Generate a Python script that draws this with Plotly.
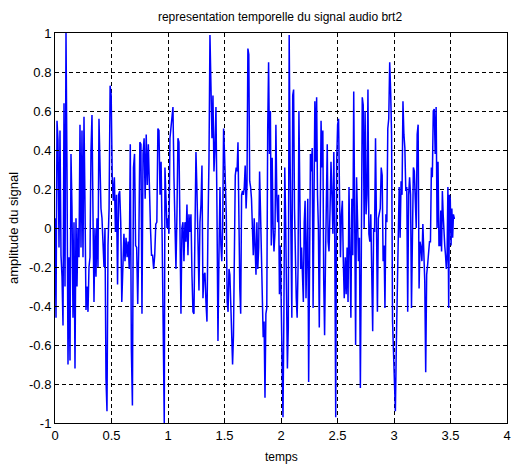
import numpy as np
import plotly.graph_objects as go

# amplitude readings, segment by segment
amp_a = [0.05, -0.46, 0.55, 0.45, -0.10, 0.50, -0.14, -0.25, -0.50, 0.64, -0.30, 1.0, 0.3, -0.70, -0.15,
         -0.68, 0.38, 0.1, -0.46, 0.03, -0.72, 0.05, -0.3, 0.0, -0.15, 0.53, -0.1, 0.5, -0.15, 0.57, 0.12,
         -0.42, -0.3, -0.43, -0.2, -0.15, 0.4, 0.58, 0.07, -0.38, 0.0, -0.25, 0.05, -0.2, 0.56, 0.2, 0.1,
         0.05, -0.1, -0.2, 0.0, -0.77, -0.94]
amp_b = [-0.09, 0.10, 0.73, 0.68, 0.26, 0.14, 0.26, -0.02, 0.17, -0.29, 0.17, 0.19, 0.03, -0.38, -0.15,
         -0.03, -0.17, -0.05, -0.15, -0.07, -0.21, 0.43, -0.62, -0.91, 0.31, 0.38, -0.09, -0.10, -0.39,
         -0.09, 0.44, 0.43, -0.44, 0.38, 0.46, 0.15, 0.48, 0.22, 0.43, 0.10, 0.0, -0.14, -0.14, -0.21,
         -0.14, 0.02, 0.03, 0.51, 0.50, 0.17, 0.34, -0.05, -0.60, -1.0]
amp_c = [0.31, 0.10, 0.0, 0.05, -0.03, 0.46, 0.53, 0.58, 0.62, 0.26, 0.07, -0.21, 0.07, 0.46, 0.44,
         0.05, -0.44, 0.0, 0.03, -0.17, 0.03, -0.07, 0.12, -0.14, 0.07, -0.02, 0.07, -0.24, -0.43, -0.44,
         -0.05, 0.39, 0.19, -0.17, -0.32, 0.03, 0.12, 0.32, -0.36, -0.24, -0.23, -0.38, -0.48, 0.0, 0.34,
         0.99, 0.63, 0.46, 0.68, 0.29, 0.41, 0.62, 0.10, -0.58, -0.14]
amp_d = [0.21, -0.09, -0.17, 0.0, 0.51, 0.39, 0.24, 0.07, -0.38, -0.43, -0.21, -0.24, -0.39, -0.58,
         -0.70, -0.55, -0.22, 0.27, 0.31, 0.29, 0.44, 0.0, -0.31, -0.44, 0.17, 0.19, 0.17, 0.21, 0.32,
         0.10, 0.22, 0.92, 0.89, 0.24, 0.21, 0.15, -0.05, -0.14, 0.05, -0.10, -0.24, 0.03, -0.21, -0.10,
         0.29, 0.09, -0.17, -0.24, -0.56, -0.48, -0.87, -0.44, -0.41, 0.50, 0.85, 0.38, 0.60, -0.09, 0.36,
         0.0, -0.12]
amp_e = [-0.02, 0.53, 0.17, 0.03, 0.17, -0.34, -0.09, -0.38, -0.91, -0.97, -0.46, 0.31, 0.05, -0.44,
         -0.72, -0.51, 0.99, 0.38, 0.03, -0.46, 0.68, 0.71, 0.10, -0.17, -0.36, -0.46, -0.21, 0.60, 0.17,
         -0.21, -0.10, -0.24, -0.38, 0.03, 0.14, -0.36, 0.07, 0.15, -0.79, -0.14, 0.38, 0.29, 0.41, -0.41,
         0.03, 0.65, 0.34, 0.67, 0.17, 0.0, -0.51, 0.0, 0.55, 0.31, 0.50, -0.27, -0.55, -0.17, 0.12, 0.43,
         -0.07, -0.12]
amp_f = [0.09, 0.34, 0.17, -0.03, 0.39, -0.07, -0.97, 0.34, 0.53, 0.56, 0.17, -0.15, 0.07, 0.14, -0.17,
         -0.36, -0.15, -0.34, -0.10, -0.38, 0.21, -0.17, -0.46, 0.15, -0.14, 0.70, 0.0, -0.60, 0.26, -0.03,
         -0.17, -0.05, -0.82, -0.14, 0.67, 0.63, 0.0, 0.60, 0.07, 0.17, 0.71, -0.03, -0.07, 0.07, -0.17,
         -0.53, 0.0, -0.02, 0.46, -0.03, -0.43, 0.05, 0.07, 0.10, 0.31, 0.27, -0.17, -0.09]
amp_g = [-0.41, 0.07, 0.03, 0.51, 0.56, 0.85, 0.70, 0.48, -0.48, -0.68, -0.89, -0.94, -0.60, -0.24, 0.07,
         0.21, -0.05, 0.24, 0.17, 0.65, 0.48, 0.41, 0.19, 0.21, -0.43, 0.17, 0.26, 0.17, -0.41, -0.09, 0.31,
         0.29, 0.10, 0.0, 0.48, 0.53, -0.31, -0.07, -0.10, -0.17, 0.02, -0.17, -0.27, -0.74, -0.24, -0.19,
         -0.14, -0.07, -0.07, 0.31, 0.26, 0.60, 0.61, 0.38, 0.62, 0.0, 0.34, -0.09]
amp_h = [-0.09, 0.09, -0.12, 0.19, 0.07, -0.07, -0.09, -0.14, -0.21, -0.14, 0.21, -0.41, 0.17, 0.15,
         -0.09, 0.10, -0.05, 0.07, 0.05, 0.05]

# time span (s) covered by each segment
seg_start = [0.0, 0.469, 0.973, 1.460, 1.947, 2.434, 2.920, 3.407]
seg_end = [0.460, 0.967, 1.451, 1.938, 2.425, 2.912, 3.398, 3.540]

x_tickvals = [0, 0.5, 1, 1.5, 2, 2.5, 3, 3.5, 4]
x_ticktext = ["0", "0.5", "1", "1.5", "2", "2.5", "3", "3.5", "4"]
y_tickvals = [-1, -0.8, -0.6, -0.4, -0.2, 0, 0.2, 0.4, 0.6, 0.8, 1]
y_ticktext = ["-1", "-0.8", "-0.6", "-0.4", "-0.2", "0", "0.2", "0.4", "0.6", "0.8", "1"]

segments = [amp_a, amp_b, amp_c, amp_d, amp_e, amp_f, amp_g, amp_h]
temps = np.concatenate([np.linspace(s, e, len(v)) for s, e, v in zip(seg_start, seg_end, segments)])
amplitude = np.concatenate([np.array(v) for v in segments])

font = "Liberation Sans, Arial, sans-serif"

fig = go.Figure()
fig.add_trace(go.Scatter(x=temps, y=amplitude, mode="lines",
                         line=dict(color="#0000FF", width=1.5), showlegend=False))

axis_common = dict(showline=True, linecolor="black", linewidth=1, mirror="ticks",
                   ticks="inside", ticklen=4, tickcolor="black", automargin=False,
                   showgrid=True, gridcolor="black", gridwidth=1, griddash="4px,3px",
                   zeroline=False, tickfont=dict(family=font, size=13, color="black"))

fig.update_xaxes(range=[0, 4], tickvals=x_tickvals, ticktext=x_ticktext, **axis_common)
fig.update_yaxes(range=[-1, 1], tickvals=y_tickvals, ticktext=y_ticktext, **axis_common)

fig.add_annotation(text="temps", xref="paper", yref="paper", x=0.5, y=-0.087,
                   xanchor="center", yanchor="middle", showarrow=False,
                   font=dict(family=font, size=12, color="black"))
fig.add_annotation(text="amplitude du signal", xref="paper", yref="paper", x=-0.093, y=0.5,
                   xanchor="center", yanchor="middle", textangle=-90, showarrow=False,
                   font=dict(family=font, size=13, color="black"))

fig.update_layout(
    width=511, height=468,
    margin=dict(l=55, r=4, t=33, b=45, autoexpand=False),
    paper_bgcolor="white", plot_bgcolor="white",
    title=dict(text="representation temporelle du signal audio brt2", x=0.548, xanchor="center",
               y=0.964, yanchor="middle", font=dict(family=font, size=12, color="black")),
)

fig.write_html("out.html", config={"displayModeBar": False},
               post_script="document.body.style.margin='0';")
